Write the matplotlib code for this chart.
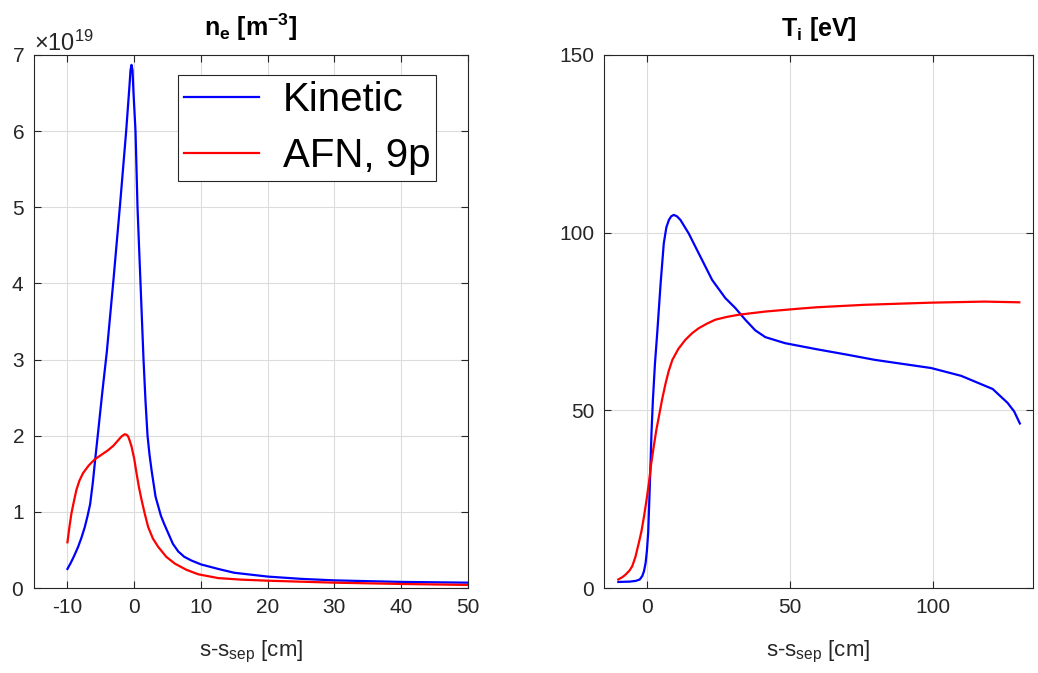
import numpy as np
import matplotlib
matplotlib.use('Agg')
import matplotlib.pyplot as plt
from matplotlib.ticker import ScalarFormatter

plt.rcParams['font.family'] = ['Liberation Sans', 'DejaVu Sans']
plt.rcParams['mathtext.fontset'] = 'custom'
plt.rcParams['mathtext.rm'] = 'Liberation Sans'
plt.rcParams['mathtext.bf'] = 'Liberation Sans:bold'
plt.rcParams['mathtext.it'] = 'Liberation Sans'
plt.rcParams['axes.unicode_minus'] = False

# ---- densidad electronica (en unidades de 1e19 m^-3) ----
ne_kin_s = [-10, -9.5, -9.0, -8.4, -7.9, -7.4, -7.0, -6.6, -6.2, -5.85, -5.4, -4.8,
            -4.1, -3.1, -2.1, -1.2, -0.7, -0.55, -0.4, -0.25, -0.1, 0.2, 0.5, 0.75,
            0.95, 1.4, 1.7, 2.0, 2.3, 2.6, 3.2, 4.0, 4.5, 5.1, 5.8, 6.6, 7.5, 8.6, 10,
            12.6, 15, 20, 25, 30, 40, 50]
ne_kin = [0.25, 0.33, 0.42, 0.54, 0.66, 0.8, 0.94, 1.1, 1.38, 1.68, 2.05, 2.55,
          3.1, 4.05, 5.05, 6.0, 6.6, 6.8, 6.87, 6.8, 6.5, 6.0, 5.0, 4.44,
          4.0, 3.0, 2.45, 2.0, 1.75, 1.55, 1.2, 0.95, 0.84, 0.72, 0.58, 0.48, 0.41, 0.36, 0.31,
          0.25, 0.2, 0.15, 0.12, 0.1, 0.08, 0.07]

ne_afn_s = [-10, -9.7, -9.4, -9.0, -8.65, -8.2, -7.65, -6.8, -5.9, -4.9, -3.9, -3.1,
            -2.4, -1.9, -1.4, -1.1, -0.9, -0.65, -0.4, 0.0, 0.35, 0.7, 1.1, 1.6,
            2.1, 2.8, 3.6, 4.8, 6.1, 7.8, 9.6, 12.6, 16, 20, 30, 40, 50]
ne_afn = [0.6, 0.8, 0.98, 1.15, 1.29, 1.41, 1.51, 1.61, 1.69, 1.75, 1.81, 1.87,
          1.94, 1.99, 2.02, 2.01, 1.99, 1.93, 1.86, 1.7, 1.51, 1.33, 1.16, 0.97,
          0.8, 0.65, 0.54, 0.41, 0.32, 0.24, 0.18, 0.13, 0.11, 0.096, 0.07, 0.053, 0.04]

# ---- temperatura ionica [eV] ----
ti_kin_s = [-10, -6, -3.9, -2.5, -1.6, -1.0, -0.45, 0.0, 0.45, 1.05, 1.6, 2.1, 2.8,
            3.6, 4.8, 5.9, 6.8, 7.7, 8.5, 9.4, 10.5, 11.7, 14.6, 18.1, 22.8, 27.4,
            30.9, 34.4, 37.9, 41.4, 48.3, 59.3, 70.4, 79.7, 99.4, 109.9, 120.9,
            126.1, 128.4, 130.4]
ti_kin = [1.7, 1.8, 2.0, 2.4, 3.4, 4.8, 7.1, 10.5, 15.6, 29.6, 43.7, 53, 63,
          71.7, 85.8, 97, 101.5, 103.6, 104.6, 105, 104.6, 103.6, 99.8, 94.2, 86.7, 81.6,
          78.8, 75.5, 72.5, 70.6, 68.9, 67.2, 65.6, 64.2, 61.9, 59.7, 56,
          52.1, 49.7, 46.3]

ti_afn_s = [-10, -8.5, -7.4, -6, -5.1, -4, -2.8, -1.9, -1.0, 0, 0.7, 1.5, 2.4, 3.3,
            4.2, 5.3, 6.5, 7.6, 8.9, 11, 13.5, 15.8, 18.1, 21, 23.9, 28, 32.1, 41.4,
            53, 59.3, 76.2, 99.4, 118, 130.2]
ti_afn = [2.4, 3.1, 3.8, 5.0, 6.2, 8.8, 12.8, 16, 20.2, 25.5, 29.6, 35, 39.9, 44.5,
          48.3, 53, 57.5, 61, 64.2, 67.3, 69.9, 71.7, 73.1, 74.4, 75.5, 76.3, 76.9, 77.8,
          78.6, 79.0, 79.7, 80.3, 80.6, 80.4]

fig = plt.figure(figsize=(10.38, 6.73), dpi=100)
ax1 = fig.add_axes([0.0328, 0.1263, 0.418, 0.792])
ax2 = fig.add_axes([0.5819, 0.1263, 0.4133, 0.792])

def estilo_matlab(ax):
    """Ejes al estilo MATLAB: caja, ticks hacia dentro, rejilla suave."""
    ax.grid(True, color='#dcdcdc', linewidth=0.8)
    ax.set_axisbelow(True)
    ax.tick_params(direction='in', top=True, right=True, length=5,
                   width=0.8, labelsize=15, colors='#262626', pad=7)
    for sp in ax.spines.values():
        sp.set_color('#262626')
        sp.set_linewidth(0.8)
    ax.set_xlabel(r's-s$_{\mathrm{sep}}$ [cm]', fontsize=16, color='#262626', labelpad=16)

ax1.plot(ne_kin_s, np.array(ne_kin) * 1e19, color='#0000ff', lw=1.6, label='Kinetic')
ax1.plot(ne_afn_s, np.array(ne_afn) * 1e19, color='#ff0000', lw=1.6, label='AFN, 9p')
ax1.set_xlim(-15, 50)
ax1.set_ylim(0, 7e19)
ax1.set_xticks(range(-10, 51, 10))
ax1.set_yticks(np.arange(0, 8) * 1e19)
fmt = ScalarFormatter(useMathText=True)
fmt.set_powerlimits((0, 0))
ax1.yaxis.set_major_formatter(fmt)
estilo_matlab(ax1)
ax1.yaxis.get_offset_text().set_fontsize(17)
ax1.set_title(r'$\mathbf{n_e}$ $\mathbf{[m^{-3}]}$', fontsize=18, fontweight='bold', pad=14)
leg = ax1.legend(loc='upper left', bbox_to_anchor=(0.332, 0.962), fontsize=29,
                 fancybox=False, edgecolor='#262626', framealpha=1,
                 handlelength=1.85, handletextpad=0.6, borderpad=0.15,
                 labelspacing=0.45, borderaxespad=0)
leg.get_frame().set_linewidth(0.8)

ax2.plot(ti_kin_s, ti_kin, color='#0000ff', lw=1.6)
ax2.plot(ti_afn_s, ti_afn, color='#ff0000', lw=1.6)
ax2.set_xlim(-15, 135)
ax2.set_ylim(0, 150)
ax2.set_xticks([0, 50, 100])
ax2.set_yticks([0, 50, 100, 150])
estilo_matlab(ax2)
ax2.set_title(r'$\mathbf{T_i}$ $\mathbf{[eV]}$', fontsize=18, fontweight='bold', pad=14)

fig.savefig('out.png', dpi=100)
